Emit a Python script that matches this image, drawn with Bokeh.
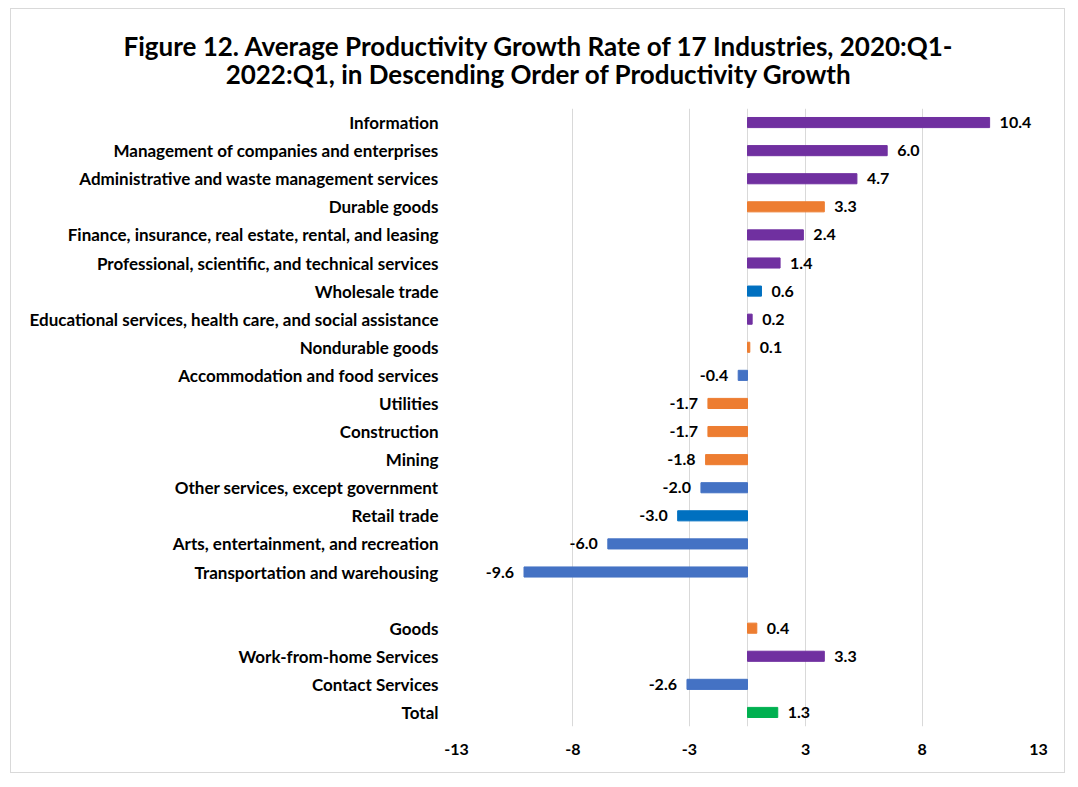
from bokeh.plotting import figure
from bokeh.layouts import column
from bokeh.models import FactorRange, Range1d, FixedTicker, Span, ColumnDataSource
from bokeh.embed import file_html
from bokeh.resources import INLINE
from bokeh.core.properties import value

# Data, top to bottom as in the chart
categories = [
    "Information",
    "Management of companies and enterprises",
    "Administrative and waste management services",
    "Durable goods",
    "Finance, insurance, real estate, rental, and leasing",
    "Professional, scientific, and technical services",
    "Wholesale trade",
    "Educational services, health care, and social assistance",
    "Nondurable goods",
    "Accommodation and food services",
    "Utilities",
    "Construction",
    "Mining",
    "Other services, except government",
    "Retail trade",
    "Arts, entertainment, and recreation",
    "Transportation and warehousing",
    " ",
    "Goods",
    "Work-from-home Services",
    "Contact Services",
    "Total",
]
values = [10.4, 6.0, 4.7, 3.3, 2.4, 1.4, 0.6, 0.2, 0.1, -0.4, -1.7, -1.7, -1.8,
          -2.0, -3.0, -6.0, -9.6, None, 0.4, 3.3, -2.6, 1.3]
groups = ["wfh", "wfh", "wfh", "goods", "wfh", "wfh", "trade", "wfh", "goods",
          "contact", "goods", "goods", "goods", "contact", "trade", "contact",
          "contact", None, "goods", "wfh", "contact", "total"]
palette = {"wfh": "#7030A0", "goods": "#ED7D31", "trade": "#0070C0",
           "contact": "#4472C4", "total": "#00B050"}

tick_positions = [-12.5, -7.5, -2.5, 2.5, 7.5, 12.5]
tick_labels = ["-13", "-8", "-3", "3", "8", "13"]

title_lines = ["Figure 12. Average Productivity Growth Rate of 17 Industries, 2020:Q1-",
               "2022:Q1, in Descending Order of Productivity Growth"]

FONT = "Lato"

rows = [(c, v, palette[g]) for c, v, g in zip(categories, values, groups) if v is not None]
bar_src = ColumnDataSource(dict(
    cat=[r[0] for r in rows], val=[r[1] for r in rows], color=[r[2] for r in rows]))
pos_src = ColumnDataSource(dict(
    cat=[r[0] for r in rows if r[1] >= 0], val=[r[1] for r in rows if r[1] >= 0],
    lab=[f"{r[1]:.1f}" for r in rows if r[1] >= 0]))
neg_src = ColumnDataSource(dict(
    cat=[r[0] for r in rows if r[1] < 0], val=[r[1] for r in rows if r[1] < 0],
    lab=[f"{r[1]:.1f}" for r in rows if r[1] < 0]))

W, H_T, H_P = 1053, 99, 664

# Title panel
t = figure(width=W, height=H_T, x_range=Range1d(0, W), y_range=Range1d(0, H_T),
           output_backend="svg", toolbar_location=None,
           min_border=0, min_border_left=0, min_border_right=0,
           min_border_top=0, min_border_bottom=0)
t.frame_align = False
t.axis.visible = False
t.grid.visible = False
t.outline_line_color = None
t.text(x=[W / 2 + 1, W / 2 + 1], y=[H_T - 36, H_T - 64], text=title_lines,
       text_align="center", text_baseline="middle", text_font=value(FONT),
       text_font_size="26px", text_font_style="bold", text_color="black")

# Main chart
p = figure(
    width=W, height=H_P,
    y_range=FactorRange(factors=list(reversed(categories)), range_padding=0),
    x_range=Range1d(-12.5, 12.5),
    output_backend="svg", toolbar_location=None,
    min_border_left=445, min_border_right=26, min_border_top=0, min_border_bottom=46,
)
p.frame_align = False
p.title = None

p.hbar(y="cat", right="val", left=0, height=0.36, color="color", source=bar_src)

span = Span(location=0, dimension="height", line_color="#d9d9d9", line_width=1,
            level="underlay")
p.add_layout(span)

p.text(x="val", y="cat", text="lab", source=pos_src, x_offset=10,
       text_align="left", text_baseline="middle", text_font=value(FONT),
       text_font_size="16px", text_font_style="bold", text_color="black")
p.text(x="val", y="cat", text="lab", source=neg_src, x_offset=-10,
       text_align="right", text_baseline="middle", text_font=value(FONT),
       text_font_size="16px", text_font_style="bold", text_color="black")

p.xaxis.ticker = FixedTicker(ticks=tick_positions)
p.xaxis.major_label_overrides = {t_: l for t_, l in zip(tick_positions, tick_labels)}
p.xaxis.axis_line_color = None
p.xaxis.major_tick_line_color = None
p.xaxis.minor_tick_line_color = None
p.xaxis.major_tick_out = 0
p.xaxis.major_label_text_font = FONT
p.xaxis.major_label_text_font_size = "16px"
p.xaxis.major_label_text_font_style = "bold"
p.xaxis.major_label_text_color = "black"
p.xaxis.major_label_standoff = 17

p.yaxis.axis_line_color = None
p.yaxis.major_tick_line_color = None
p.yaxis.minor_tick_line_color = None
p.yaxis.major_tick_out = 0
p.yaxis.major_label_text_font = FONT
p.yaxis.major_label_text_font_size = "17px"
p.yaxis.major_label_text_font_style = "bold"
p.yaxis.major_label_text_color = "black"
p.yaxis.major_label_standoff = 18

p.xgrid.grid_line_color = "#d9d9d9"
p.ygrid.grid_line_color = None
p.outline_line_color = None

layout = column(t, p, spacing=0)
layout.styles = {"border": "1px solid #d9d9d9", "margin": "8px 0px 0px 10px"}

open("out.html", "w").write(file_html(layout, INLINE))
